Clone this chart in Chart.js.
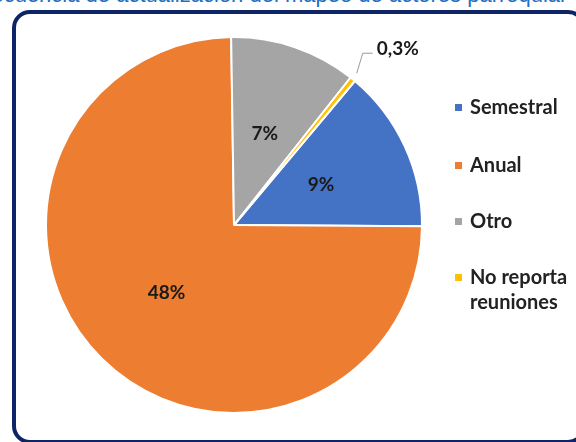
<!DOCTYPE html>
<html>
<head>
<meta charset="utf-8">
<script src="https://cdn.jsdelivr.net/npm/chart.js@4/dist/chart.umd.min.js"></script>
<style>
  html, body { margin: 0; padding: 0; background: #fff; }
  #wrap { position: relative; width: 576px; height: 442px; overflow: hidden; background: #fff; }
  #title { position: absolute; right: 11px; top: -18px; white-space: nowrap; font-family: "Liberation Sans", Arial, sans-serif; font-size: 22px; color: #1f6fc4; }
  #frame { position: absolute; left: 12px; top: 10px; width: 566px; height: 426px; border: 4px solid #0d2466; border-radius: 18px; background: #fff; }
  canvas { position: absolute; left: 0; top: 0; }
</style>
</head>
<body>
<div id="wrap">
  <div id="title">Frecuencia de actualización del mapeo de actores parroquial</div>
  <div id="frame"></div>
  <canvas id="c" width="576" height="442"></canvas>
</div>
<script>
const categories = ["Semestral", "Anual", "Otro", "No reporta reuniones"];
const legendLines = [["Semestral"], ["Anual"], ["Otro"], ["No reporta", "reuniones"]];
const values = [9, 48, 7, 0.3];
const valueLabels = ["9%", "48%", "7%", "0,3%"];
const colors = ["#4472C4", "#ED7D31", "#A5A5A5", "#FFC000"];

const labelPlugin = {
  id: 'sliceLabels',
  afterDatasetsDraw(chart) {
    const ctx = chart.ctx;
    const meta = chart.getDatasetMeta(0);
    ctx.save();
    ctx.font = 'bold 19px Lato, "Open Sans", sans-serif';
    ctx.fillStyle = '#1a1a1a';
    ctx.textAlign = 'center';
    ctx.textBaseline = 'middle';
    meta.data.forEach((arc, i) => {
      const p = arc.getProps(['x','y','startAngle','endAngle','outerRadius'], true);
      const mid = (p.startAngle + p.endAngle) / 2;
      if (values[i] < 1) {
        const r0 = p.outerRadius;
        const x0 = p.x + Math.cos(mid) * r0, y0 = p.y + Math.sin(mid) * r0;
        const x1 = x0 + 10, y1 = y0 - 26;
        ctx.strokeStyle = '#999';
        ctx.lineWidth = 1;
        ctx.beginPath();
        ctx.moveTo(x0 + 4, y0 - 6);
        ctx.lineTo(x1, y1);
        ctx.lineTo(x1 + 10, y1);
        ctx.stroke();
        ctx.textAlign = 'left';
        ctx.fillText(valueLabels[i], x1 + 14, y1 - 4);
        ctx.textAlign = 'center';
      } else {
        const r = p.outerRadius * 0.51;
        ctx.fillText(valueLabels[i], p.x + Math.cos(mid) * r, p.y + Math.sin(mid) * r);
      }
    });
    ctx.restore();
  }
};

const legendPlugin = {
  id: 'sideLegend',
  afterDraw(chart) {
    const ctx = chart.ctx;
    ctx.save();
    ctx.font = 'bold 20px Lato, "Open Sans", sans-serif';
    ctx.textBaseline = 'middle';
    ctx.textAlign = 'left';
    const ys = [108, 166, 222, 278];
    legendLines.forEach((lines, i) => {
      ctx.fillStyle = colors[i];
      ctx.fillRect(455, ys[i] - 4, 7, 7);
      ctx.fillStyle = '#222';
      lines.forEach((t, j) => ctx.fillText(t, 470, ys[i] + j * 25));
    });
    ctx.restore();
  }
};

new Chart(document.getElementById('c'), {
  type: 'pie',
  data: {
    labels: categories,
    datasets: [{
      data: values,
      backgroundColor: colors,
      borderColor: '#ffffff',
      borderWidth: 2
    }]
  },
  options: {
    responsive: false,
    animation: false,
    rotation: 40,
    layout: { padding: { left: 45, right: 153, top: 36, bottom: 28 } },
    plugins: { legend: { display: false }, tooltip: { enabled: false } }
  },
  plugins: [labelPlugin, legendPlugin]
});
</script>
</body>
</html>
